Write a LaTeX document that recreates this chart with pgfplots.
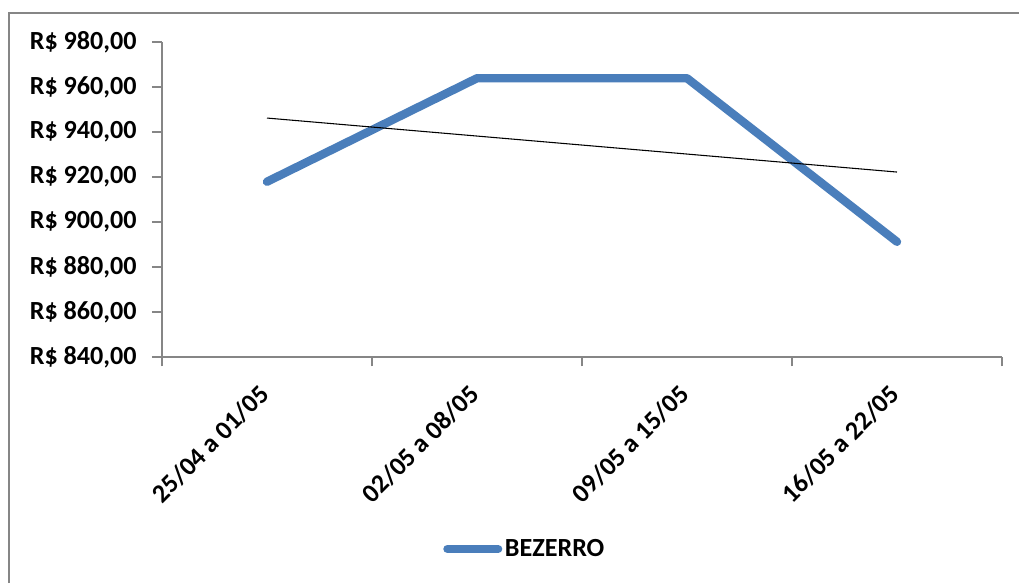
\documentclass[border=0pt]{standalone}
\usepackage{pgfplots}
\pgfplotsset{compat=1.18}
\usepackage{fontspec}
\setmainfont{Carlito}
\definecolor{exblue}{HTML}{4A7EBB}
\definecolor{axgray}{HTML}{868686}
\begin{document}
\begin{tikzpicture}
% picture frame, 1 px = 0.75pt, origin bottom-left
\useasboundingbox (0,0) rectangle (764.25pt,437.25pt);
\draw[axgray, line width=1.5pt] (6.75pt,0) -- (6.75pt,427.5pt) -- (764.25pt,427.5pt);
\begin{axis}[
    at={(121.5pt,169.5pt)}, anchor=south west,
    scale only axis,
    width=630pt, height=236.25pt,
    xmin=0.5, xmax=4.5,
    ymin=840, ymax=980,
    ytick distance=20,
    xtick={1,2,3,4},
    xticklabels={25/04 a 01/05,02/05 a 08/05,09/05 a 15/05,16/05 a 22/05},
    minor xtick={0.5,1.5,2.5,3.5,4.5},
    major x tick style={draw=none},
    axis x line*=bottom, axis y line*=left,
    axis line style={axgray, line width=0.9pt},
    tick style={axgray, line width=0.9pt},
    tick align=outside,
    major tick length=7.5pt, minor tick length=7pt,
    font=\fontsize{19.6}{23}\selectfont\bfseries,
    /pgf/number format/assume math mode=true,
    yticklabel={R\$ \pgfmathprintnumber[fixed, fixed zerofill, precision=2, use comma, 1000 sep={}]{\tick}},
    yticklabel style={anchor=east, xshift=-8pt},
    xticklabel style={xshift=-7pt, yshift=-7pt, rotate=45, anchor=north east},
    legend style={at={(0.3345,-0.6095)}, anchor=west, draw=none, fill=none,
        inner sep=0pt, font=\fontsize{19.6}{23}\selectfont\bfseries},
    legend cell align=left,
    legend image code/.code={\draw[exblue, line width=6.3pt, line cap=round] (3pt,0pt) -- (41pt,0pt);},
]
\addplot[exblue, line width=6.3pt, line cap=round, line join=round] coordinates {
    (1,917.9) (2,963.9) (3,963.9) (4,891.2)
};
\addlegendentry{BEZERRO}
% linear trend line
\addplot[black, line width=0.8pt, forget plot] coordinates {
    (1,946.2) (4,922.2)
};
\end{axis}
\end{tikzpicture}
\end{document}
